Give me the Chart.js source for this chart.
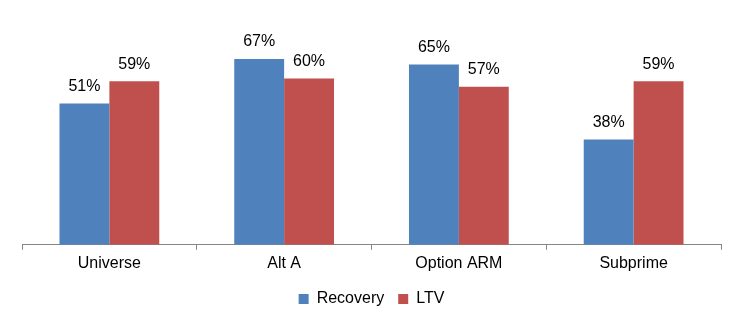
<!DOCTYPE html>
<html>
<head>
<meta charset="utf-8">
<script src="https://cdn.jsdelivr.net/npm/chart.js@4/dist/chart.umd.min.js"></script>
<style>
    html, body { margin: 0; padding: 0; background: #fff; }
    #wrap { width: 745px; height: 330px; }
</style>
</head>
<body>
<div id="wrap"><canvas id="myChart" width="745" height="330"></canvas></div>
<script>
const categories = ['Universe', 'Alt A', 'Option ARM', 'Subprime'];
const recovery = [51, 67, 65, 38];
const ltv = [59, 60, 57, 59];

// percentage labels above each bar
const barLabels = {
    id: 'barLabels',
    afterDatasetsDraw(chart) {
        const ctx = chart.ctx;
        ctx.save();
        ctx.font = '16px "Liberation Sans", Arial, sans-serif';
        ctx.fillStyle = '#000';
        ctx.textAlign = 'center';
        ctx.textBaseline = 'middle';
        chart.data.datasets.forEach((ds, i) => {
            chart.getDatasetMeta(i).data.forEach((bar, j) => {
                ctx.fillText(ds.data[j] + '%', bar.x, bar.y - 17);
            });
        });
        ctx.restore();
    },
};

const ctx = document.getElementById('myChart');
new Chart(ctx, {
    type: 'bar',
    data: {
        labels: categories,
        datasets: [
            { label: 'Recovery', data: recovery, backgroundColor: '#4F81BD' },
            { label: 'LTV', data: ltv, backgroundColor: '#C0504D' },
        ],
    },
    options: {
        responsive: false,
        animation: false,
        layout: { padding: { top: 23, left: 22, right: 24, bottom: 13 } },
        datasets: {
            bar: { barPercentage: 1, categoryPercentage: 0.571 },
        },
        scales: {
            x: {
                grid: {
                    offset: true,
                    drawOnChartArea: false,
                    tickLength: 5,
                    color: '#868686',
                },
                border: { color: '#868686' },
                ticks: {
                    color: '#000',
                    padding: 4,
                    font: { family: '"Liberation Sans", Arial, sans-serif', size: 16 },
                },
            },
            y: { display: false, min: 0, max: 80 },
        },
        plugins: {
            legend: {
                position: 'bottom',
                labels: {
                    boxWidth: 10,
                    boxHeight: 10,
                    padding: 14,
                    color: '#000',
                    font: { family: '"Liberation Sans", Arial, sans-serif', size: 16 },
                },
            },
            tooltip: { enabled: false },
        },
    },
    plugins: [barLabels],
});
</script>
</body>
</html>
